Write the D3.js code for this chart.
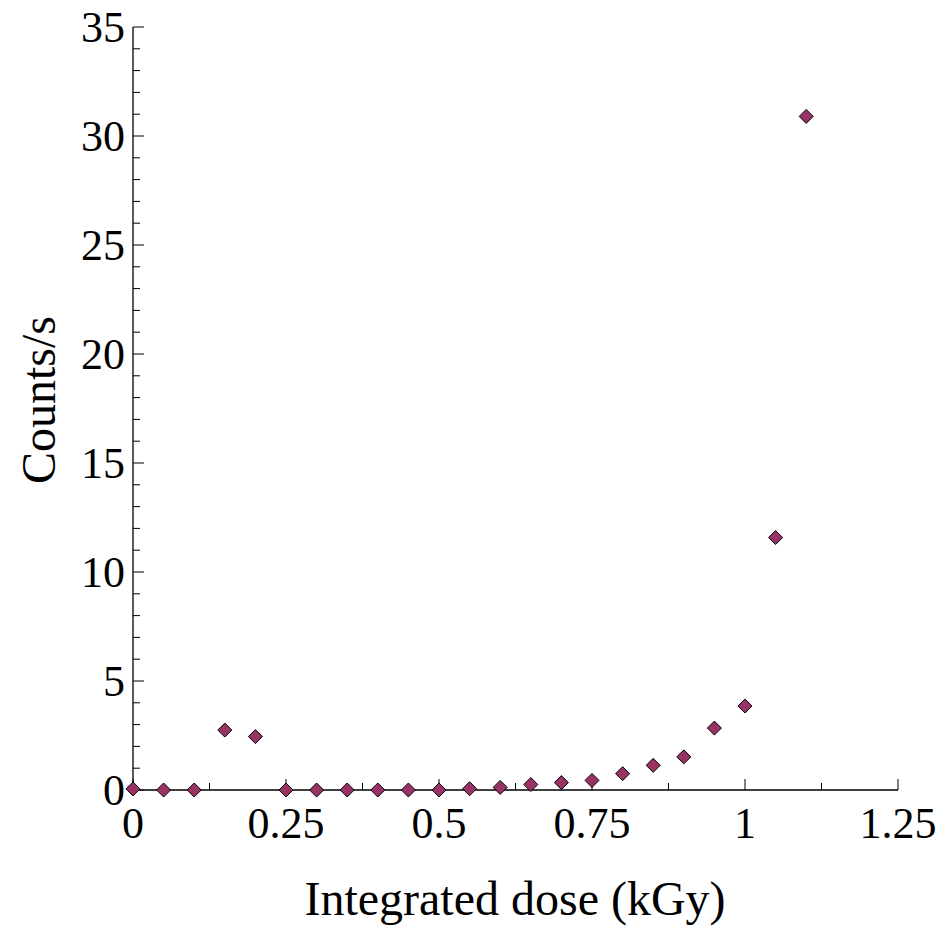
<!DOCTYPE html>
<html>
<head>
<meta charset="utf-8">
<script src="https://cdn.jsdelivr.net/npm/d3@7"></script>
<style>
  html, body { margin: 0; padding: 0; background: #fff; }
  svg { display: block; }
  text { font-family: "Liberation Serif", "Times New Roman", serif; fill: #000; }
</style>
</head>
<body>
<svg id="chart" width="952" height="926"></svg>
<script>
// Integrated dose (kGy) and measured count rate (counts/s)
const dose = [0, 0.05, 0.1, 0.15, 0.2, 0.25, 0.3, 0.35, 0.4, 0.45, 0.5, 0.55,
              0.6, 0.65, 0.7, 0.75, 0.8, 0.85, 0.9, 0.95, 1.0, 1.05, 1.1];
const counts = [0.05, 0, 0, 2.75, 2.45, 0, 0, 0, 0, 0, 0, 0.06,
                0.12, 0.25, 0.34, 0.44, 0.75, 1.13, 1.52, 2.84, 3.85, 11.58, 30.9];

const xTicks = [0, 0.25, 0.5, 0.75, 1, 1.25];
const xTickLabels = ["0", "0.25", "0.5", "0.75", "1", "1.25"];
const yTicks = [0, 5, 10, 15, 20, 25, 30, 35];

const svg = d3.select("#chart");
const plotLeft = 133, plotRight = 898, plotTop = 27, plotBottom = 790;
const tickFont = 44, titleFont = 48;

const x = d3.scaleLinear().domain([0, 1.25]).range([plotLeft, plotRight]);
const y = d3.scaleLinear().domain([0, 35]).range([plotBottom, plotTop]);

// minor ticks
const xMinor = d3.range(0, 1.2501, 0.125).filter(v => !xTicks.some(t => Math.abs(t - v) < 1e-9));
const yMinor = d3.range(0, 35.001, 1).filter(v => v % 5 !== 0);

// x axis: ticks pointing into the plot
const gx = svg.append("g").attr("transform", `translate(0,${plotBottom})`);
gx.append("line").attr("x1", plotLeft).attr("x2", plotRight).attr("stroke", "#000").attr("stroke-width", 1.3);
gx.selectAll("line.major").data(xTicks).join("line").attr("class", "major")
  .attr("x1", d => x(d)).attr("x2", d => x(d)).attr("y1", 0).attr("y2", -11)
  .attr("stroke", "#000").attr("stroke-width", 1);
gx.selectAll("line.minor").data(xMinor).join("line").attr("class", "minor")
  .attr("x1", d => x(d)).attr("x2", d => x(d)).attr("y1", 0).attr("y2", -7)
  .attr("stroke", "#000").attr("stroke-width", 1);
gx.selectAll("text").data(xTicks).join("text")
  .attr("x", d => x(d)).attr("y", 48)
  .attr("text-anchor", "middle").attr("font-size", tickFont)
  .text((d, i) => xTickLabels[i]);

// y axis: ticks pointing into the plot
const gy = svg.append("g").attr("transform", `translate(${plotLeft},0)`);
gy.append("line").attr("y1", plotTop).attr("y2", plotBottom).attr("stroke", "#000").attr("stroke-width", 1.3);
gy.selectAll("line.major").data(yTicks).join("line").attr("class", "major")
  .attr("y1", d => y(d)).attr("y2", d => y(d)).attr("x1", 0).attr("x2", 11)
  .attr("stroke", "#000").attr("stroke-width", 1);
gy.selectAll("line.minor").data(yMinor).join("line").attr("class", "minor")
  .attr("y1", d => y(d)).attr("y2", d => y(d)).attr("x1", 0).attr("x2", 7)
  .attr("stroke", "#000").attr("stroke-width", 1);
gy.selectAll("text").data(yTicks).join("text")
  .attr("x", -8).attr("y", d => y(d)).attr("dy", "0.34em")
  .attr("text-anchor", "end").attr("font-size", tickFont)
  .text(d => d);

// axis titles
svg.append("text").attr("x", 515).attr("y", 915)
  .attr("text-anchor", "middle").attr("font-size", titleFont)
  .text("Integrated dose (kGy)");
svg.append("text").attr("transform", `translate(55,400) rotate(-90)`)
  .attr("text-anchor", "middle").attr("font-size", titleFont)
  .text("Counts/s");

// diamond markers
const diamond = "M0,-7L7,0L0,7L-7,0Z";
svg.append("g").selectAll("path").data(dose.map((d, i) => [d, counts[i]])).join("path")
  .attr("d", diamond)
  .attr("transform", d => `translate(${x(d[0])},${y(d[1])})`)
  .attr("fill", "#993366").attr("stroke", "#000").attr("stroke-width", 1);
</script>
</body>
</html>
